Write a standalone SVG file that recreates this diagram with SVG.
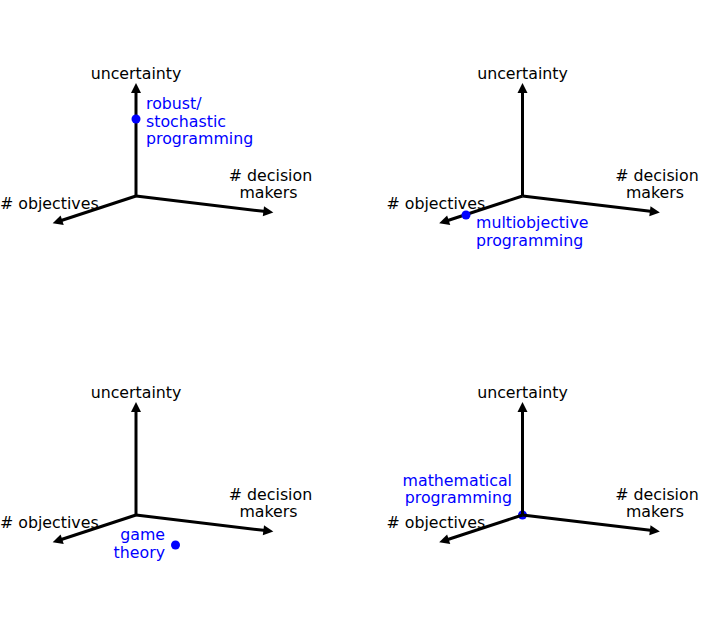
<svg xmlns="http://www.w3.org/2000/svg" width="708" height="641" viewBox="0 0 708 641">
<style>
text{font-family:"DejaVu Sans","Liberation Sans",sans-serif;font-size:15.8px;fill:#000}
.b{fill:#0000ff}
.m{text-anchor:middle}
.e{text-anchor:end}
.ax{stroke:#000;stroke-width:3;fill:none;marker-end:url(#ah)}
.dot{fill:#0000ff}
</style>
<defs>
<marker id="ah" markerUnits="userSpaceOnUse" markerWidth="14" markerHeight="14" viewBox="0 -7 12 14" refX="2.5" refY="0" orient="auto">
<path d="M10,0 L0,-5 L0,5 Z" fill="#000"/>
</marker>
<g id="axes">
<line class="ax" x1="136" y1="196" x2="136" y2="90.5"/>
<line class="ax" x1="136" y1="196" x2="59.8" y2="221"/>
<line class="ax" x1="136" y1="196" x2="265.9" y2="211.6"/>
</g>
<g id="axlabels">
<text class="m" x="136" y="79">uncertainty</text>
<text class="m" x="270.5" y="181"># decision</text>
<text class="m" x="268.5" y="198">makers</text>
<text x="0" y="209"># objectives</text>
</g>
</defs>
<g id="connectors">
<use href="#axes"/>
<use href="#axes" transform="translate(386.5,0)"/>
<use href="#axes" transform="translate(0,319)"/>
<circle class="dot" cx="522.5" cy="515" r="4.5"/>
<use href="#axes" transform="translate(386.5,319)"/>
</g>
<g id="panel-robust">
<use href="#axlabels"/>
<circle class="dot" cx="136" cy="119" r="4.5"/>
<text class="b" x="146" y="109">robust/</text>
<text class="b" x="146" y="126.5">stochastic</text>
<text class="b" x="146" y="144">programming</text>
</g>
<g id="panel-multiobjective">
<use href="#axlabels" transform="translate(386.5,0)"/>
<circle class="dot" cx="466" cy="215" r="4.5"/>
<text class="b" x="476" y="228">multiobjective</text>
<text class="b" x="476" y="245.5">programming</text>
</g>
<g id="panel-game">
<use href="#axlabels" transform="translate(0,319)"/>
<circle class="dot" cx="175.5" cy="545" r="4.5"/>
<text class="b e" x="165" y="540">game</text>
<text class="b e" x="165" y="557.5">theory</text>
</g>
<g id="panel-math">
<use href="#axlabels" transform="translate(386.5,319)"/>
<text class="b e" x="512" y="485.5">mathematical</text>
<text class="b e" x="512" y="503">programming</text>
</g>
</svg>
